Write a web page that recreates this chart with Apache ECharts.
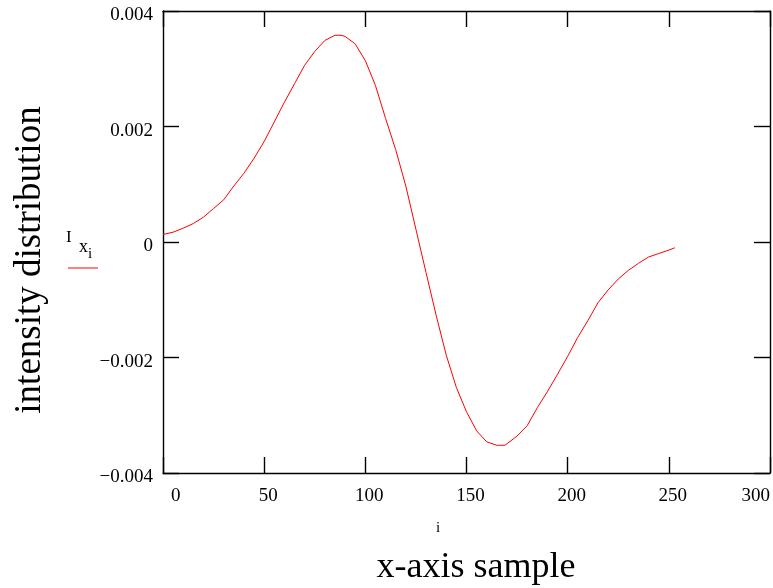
<!DOCTYPE html>
<html>
<head>
<meta charset="utf-8">
<script src="https://cdn.jsdelivr.net/npm/echarts@6/dist/echarts.min.js"></script>
<style>
html,body{margin:0;padding:0;background:#fff;}
#chart{width:773px;height:588px;}
</style>
</head>
<body>
<div id="chart"></div>
<script>
// sample index i
var sampleIdx = [0,5,10,15,20,25,30,35,40,45,50,55,60,65,70,75,80,85,88,90,95,100,105,110,115,120,125,130,135,140,145,150,155,160,165,169,175,180,185,190,195,200,205,210,215,220,225,230,235,240,245,250,253];
// intensity distribution I x_i
var intensity = [0.00013,0.00017,0.00024,0.00032,0.00043,0.00058,0.00073,0.00097,0.00119,0.00145,0.00174,0.00208,0.00242,0.00274,0.00306,0.00330,0.00349,0.00358,0.00358,0.00356,0.00343,0.00314,0.00271,0.00214,0.00160,0.00097,0.00022,-0.00053,-0.00127,-0.00196,-0.00252,-0.00294,-0.00327,-0.00346,-0.00352,-0.00352,-0.00336,-0.00318,-0.00287,-0.00259,-0.00229,-0.00198,-0.00165,-0.00136,-0.00105,-0.00083,-0.00064,-0.00049,-0.00037,-0.00026,-0.00020,-0.00014,-0.00010];
var xTicks = [0,50,100,150,200,250,300];
var yTickLabels = {'0.004':'0.004','0.002':'0.002','0':'0','-0.002':'\u22120.002','-0.004':'\u22120.004'};

var FONT = '"Liberation Serif","Times New Roman",serif';
var chart = echarts.init(document.getElementById('chart'));
var data = sampleIdx.map(function(x,k){return [x,intensity[k]];});
var axisLineStyle = {color:'#000',width:1.4};
var tickStyle = {show:true,inside:true,length:16,lineStyle:{color:'#000',width:1.4}};
chart.setOption({
  animation:false,
  backgroundColor:'#fff',
  grid:{left:163,right:3,top:11,bottom:115},
  xAxis:[{
    type:'value',min:0,max:300,interval:50,
    axisLine:{show:true,onZero:false,lineStyle:axisLineStyle},
    axisTick:tickStyle,
    splitLine:{show:false},
    axisLabel:{color:'#000',fontFamily:FONT,fontSize:19,margin:14,padding:[0,0,0,8],
      alignMinLabel:'left',alignMaxLabel:'right'}
  },{
    type:'value',min:0,max:300,interval:50,position:'top',
    axisLine:{show:true,onZero:false,lineStyle:axisLineStyle},
    axisTick:tickStyle,splitLine:{show:false},axisLabel:{show:false}
  }],
  yAxis:[{
    type:'value',min:-0.004,max:0.004,interval:0.002,
    axisLine:{show:true,onZero:false,lineStyle:axisLineStyle},
    axisTick:tickStyle,
    splitLine:{show:false},
    axisLabel:{color:'#000',fontFamily:FONT,fontSize:19,margin:10,verticalAlign:'top',lineHeight:9,
      formatter:function(v){var k=String(Math.round(v*1000)/1000);return yTickLabels[k]!==undefined?yTickLabels[k]:k;}}
  },{
    type:'value',min:-0.004,max:0.004,interval:0.002,position:'right',
    axisLine:{show:true,onZero:false,lineStyle:axisLineStyle},
    axisTick:tickStyle,splitLine:{show:false},axisLabel:{show:false}
  }],
  series:[{
    type:'line',data:data,showSymbol:false,symbol:'none',
    lineStyle:{color:'#ff0000',width:1},
    xAxisIndex:0,yAxisIndex:0
  }],
  graphic:[
    {type:'text',x:30,y:260,rotation:Math.PI/2,
      style:{text:'intensity distribution',font:'37px '+FONT,fill:'#000',align:'center',verticalAlign:'middle'}},
    {type:'text',x:476,y:568,
      style:{text:'x-axis sample',font:'36px '+FONT,fill:'#000',align:'center',verticalAlign:'middle'}},
    {type:'text',x:438,y:528,
      style:{text:'i',font:'15px '+FONT,fill:'#000',align:'center',verticalAlign:'middle'}},
    {type:'text',x:66,y:229,
      style:{text:'I',font:'17px '+FONT,fill:'#000'}},
    {type:'text',x:79,y:238,
      style:{text:'x',font:'18px '+FONT,fill:'#000'}},
    {type:'text',x:88,y:247,
      style:{text:'i',font:'15px '+FONT,fill:'#000'}},
    {type:'line',shape:{x1:68,y1:268,x2:98,y2:268},style:{stroke:'#ff0000',lineWidth:1}}
  ]
});
</script>
</body>
</html>
